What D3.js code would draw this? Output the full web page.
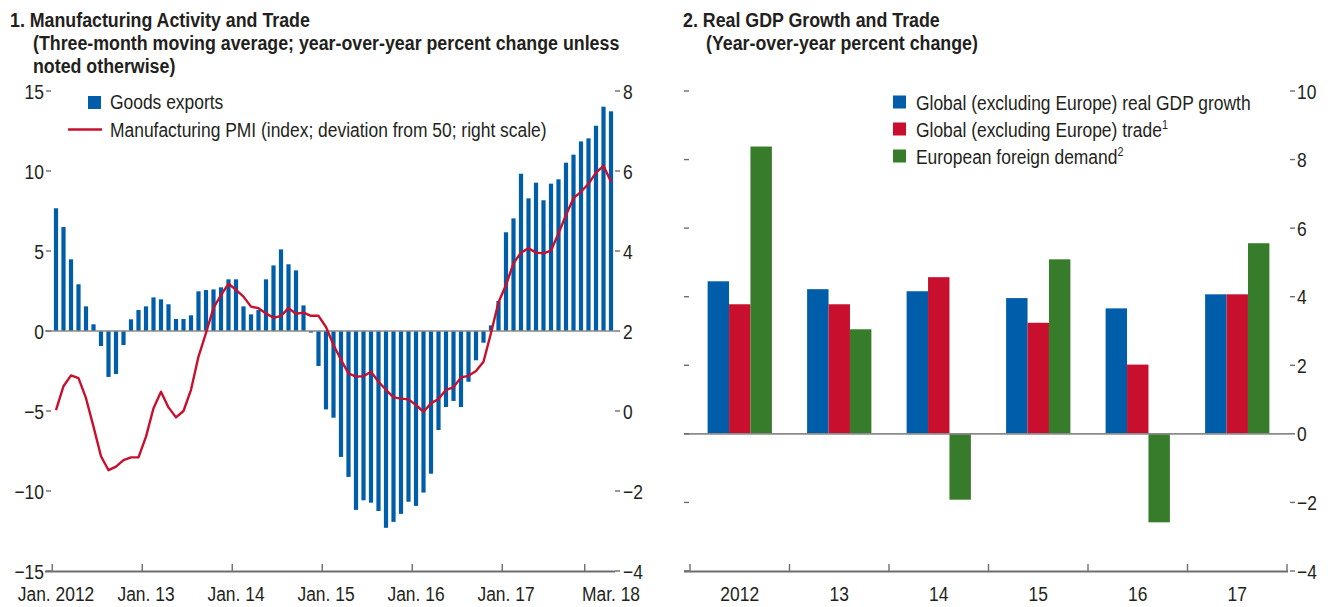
<!DOCTYPE html>
<html><head><meta charset="utf-8">
<script src="https://cdn.jsdelivr.net/npm/d3@7"></script>
<style>
body{margin:0;background:#fff;}
svg text{font-family:"Liberation Sans",Arial,Helvetica,sans-serif;fill:#231f20;}
</style></head><body>
<svg id="c" width="1331" height="607"></svg>
<script>
// ---------- Panel 1 data ----------
const years = [2012,2013,2014,2015,2016,2017,2018];
const months = [];
for (const y of years) for (let m=0;m<12;m++){ if (y===2018 && m>2) break; months.push(y+"-"+String(m+1).padStart(2,"0")); }
const goodsExports = [
 7.67,6.5,4.48,2.92,1.54,0.42,-0.94,-2.87,-2.69,-0.88,0.73,1.31,
 1.54,2.1,1.98,1.67,0.75,0.75,0.98,2.48,2.56,2.6,2.73,3.23,
 3.23,1.54,1.04,1.31,3.23,4.1,5.1,4.17,3.79,1.6,-0.1,-2.19,
 -4.9,-5.42,-7.87,-9.12,-11.18,-10.58,-10.73,-11.25,-12.3,-11.93,-11.43,-10.67,
 -10.93,-10.1,-8.92,-6.19,-4.75,-4.37,-4.75,-3.17,-1.83,-0.73,0.35,1.88,
 6.17,7.04,9.83,8.29,9.27,8.17,9.21,9.48,10.52,11.02,11.85,12.04,
 12.83,14.02,13.73
];
const pmi = [
 0.02,0.62,0.89,0.82,0.32,-0.39,-1.13,-1.48,-1.39,-1.23,-1.16,-1.16,
 -0.64,0.07,0.48,0.09,-0.16,0.0,0.53,1.36,1.95,2.58,2.9,3.18,
 3.03,2.86,2.61,2.57,2.44,2.33,2.38,2.57,2.43,2.46,2.38,2.38,
 2.1,1.65,1.28,0.94,0.86,0.87,0.98,0.73,0.53,0.34,0.31,0.29,
 0.15,-0.02,0.19,0.3,0.53,0.59,0.84,0.88,1.0,1.23,1.95,2.72,
 3.15,3.69,3.96,4.07,3.96,3.94,4.01,4.44,4.9,5.32,5.48,5.68,
 5.96,6.13,5.73
];
const leftTicks1 = [15,10,5,0,-5,-10,-15];
const rightTicks1 = [8,6,4,2,0,-2,-4];
const xTickMonths1 = ["2012-01","2013-01","2014-01","2015-01","2016-01","2017-01","2017-12"];
const xLabels1 = [["2012-01","Jan. 2012"],["2013-01","Jan. 13"],["2014-01","Jan. 14"],["2015-01","Jan. 15"],["2016-01","Jan. 16"],["2017-01","Jan. 17"],["2018-03","Mar. 18"]];

// ---------- Panel 2 data ----------
const gdpYears = ["2012","13","14","15","16","17"];
const seriesNames = ["Global (excluding Europe) real GDP growth","Global (excluding Europe) trade","European foreign demand"];
const seriesSup = ["","1","2"];
const gdpGrowth = [4.45,4.22,4.16,3.96,3.66,4.07];
const globalTrade = [3.78,3.78,4.57,3.24,2.02,4.07];
const foreignDemand = [8.38,3.05,-1.92,5.09,-2.58,5.56];
const ticks2 = [10,8,6,4,2,0,-2,-4];

const BLUE="#005DAA", RED="#C8102E", GREEN="#367C2B", AX="#6d6e71", ZERO="#8a8a8a";
const FS=21, SX=0.83, TFS=20, TSX=0.89;
const fmt = v => (v<0 ? "\u2212"+Math.abs(v) : String(v));

const svg = d3.select("#c");

function txt(g, x, y, s, o={}) {
  return g.append("text")
    .attr("transform", `translate(${x},${y}) scale(${o.bold?TSX:SX},1)`)
    .attr("font-size", o.bold?TFS:FS)
    .attr("text-anchor", o.anchor||"start")
    .attr("font-weight", o.bold?"bold":"normal")
    .text(s);
}

// ================= PANEL 1 =================
const g1 = svg.append("g");
const x1 = d3.scaleBand().domain(months).range([52.25, 614.75]).paddingInner(0.44).paddingOuter(0.22);
const xb1 = d3.scaleBand().domain(months).range([52.25, 614.75]);
const yL = d3.scaleLinear().domain([-15,15]).range([571,91]);
const yR = d3.scaleLinear().domain([-4,8]).range([571,91]);

txt(g1,10,26.5,"1. Manufacturing Activity and Trade",{bold:true});
txt(g1,33,50,"(Three-month moving average; year-over-year percent change unless",{bold:true});
txt(g1,33,72.5,"noted otherwise)",{bold:true});

g1.selectAll("rect.b").data(months).enter().append("rect")
  .attr("x", d=>x1(d)).attr("width", x1.bandwidth())
  .attr("y", (d,i)=>yL(Math.max(0,goodsExports[i])))
  .attr("height",(d,i)=>Math.abs(yL(goodsExports[i])-yL(0)))
  .attr("fill",BLUE);

g1.append("line").attr("x1",45).attr("x2",615).attr("y1",yL(0)).attr("y2",yL(0)).attr("stroke",ZERO).attr("stroke-width",1.6);

const line1 = d3.line().x((d,i)=>xb1(months[i])+xb1.bandwidth()/2).y(d=>yR(d));
g1.append("path").datum(pmi).attr("d",line1).attr("fill","none").attr("stroke",RED).attr("stroke-width",2.4).attr("stroke-linejoin","round");

g1.append("line").attr("x1",45).attr("x2",615).attr("y1",571.5).attr("y2",571.5).attr("stroke",AX).attr("stroke-width",2);
g1.selectAll("line.xt").data(xTickMonths1).enter().append("line")
  .attr("x1",d=>xb1(d)).attr("x2",d=>xb1(d)).attr("y1",564).attr("y2",571).attr("stroke",AX).attr("stroke-width",1.4);
xLabels1.forEach(d=>txt(g1, xb1(d[0])+xb1.bandwidth()/2, 601, d[1], {anchor:"middle"}));

g1.selectAll("line.lt").data(leftTicks1).enter().append("line")
  .attr("x1",46).attr("x2",51).attr("y1",d=>yL(d)).attr("y2",d=>yL(d)).attr("stroke",AX).attr("stroke-width",1.4);
leftTicks1.forEach(d=>txt(g1,44,yL(d)+7.5,fmt(d),{anchor:"end"}));
g1.selectAll("line.rt").data(rightTicks1).enter().append("line")
  .attr("x1",615).attr("x2",620).attr("y1",d=>yR(d)).attr("y2",d=>yR(d)).attr("stroke",AX).attr("stroke-width",1.4);
rightTicks1.forEach(d=>txt(g1,623,yR(d)+7.5,fmt(d)));

g1.append("rect").attr("x",88).attr("y",96).attr("width",13).attr("height",13).attr("fill",BLUE);
txt(g1,110,109,"Goods exports");
g1.append("line").attr("x1",68).attr("x2",102).attr("y1",129.5).attr("y2",129.5).attr("stroke",RED).attr("stroke-width",2.4);
txt(g1,110,136.5,"Manufacturing PMI (index; deviation from 50; right scale)");

// ================= PANEL 2 =================
const g2 = svg.append("g");
const x2 = d3.scaleBand().domain(gdpYears).range([690,1287]);
const bw2 = x2.bandwidth();
const xs2 = d3.scaleBand().domain([0,1,2]).range([bw2*0.177, bw2*0.823]);
const y2 = d3.scaleLinear().domain([-4,10]).range([571,91]);
const seriesVals = [gdpGrowth, globalTrade, foreignDemand];
const seriesCol = [BLUE, RED, GREEN];

txt(g2,683,26.5,"2. Real GDP Growth and Trade",{bold:true});
txt(g2,706,50,"(Year-over-year percent change)",{bold:true});

const flat = [];
gdpYears.forEach((yr,i)=>seriesVals.forEach((s,k)=>flat.push({yr,k,v:s[i]})));
g2.selectAll("rect.g").data(flat).enter().append("rect")
  .attr("x",d=>x2(d.yr)+xs2(d.k)).attr("width",xs2.bandwidth())
  .attr("y",d=>y2(Math.max(0,d.v))).attr("height",d=>Math.abs(y2(d.v)-y2(0)))
  .attr("fill",d=>seriesCol[d.k]);

g2.append("line").attr("x1",684).attr("x2",1290).attr("y1",y2(0)).attr("y2",y2(0)).attr("stroke",ZERO).attr("stroke-width",1.6);
g2.append("line").attr("x1",684).attr("x2",1288).attr("y1",571.5).attr("y2",571.5).attr("stroke",AX).attr("stroke-width",2);
const edges2 = gdpYears.map(d=>x2(d)).concat([x2.range()[1]]);
g2.selectAll("line.xt").data(edges2).enter().append("line")
  .attr("x1",d=>d).attr("x2",d=>d).attr("y1",564).attr("y2",571).attr("stroke",AX).attr("stroke-width",1.4);
gdpYears.forEach(d=>txt(g2, x2(d)+bw2/2, 601, d, {anchor:"middle"}));

g2.selectAll("line.lt").data(ticks2).enter().append("line")
  .attr("x1",684).attr("x2",689).attr("y1",d=>y2(d)).attr("y2",d=>y2(d)).attr("stroke",AX).attr("stroke-width",1.4);
g2.selectAll("line.rt").data(ticks2).enter().append("line")
  .attr("x1",1290).attr("x2",1295).attr("y1",d=>y2(d)).attr("y2",d=>y2(d)).attr("stroke",AX).attr("stroke-width",1.4);
ticks2.forEach(d=>txt(g2,1297,y2(d)+7.5,fmt(d)));

seriesNames.forEach((n,k)=>{
  const cy = 102 + k*27;
  g2.append("rect").attr("x",893).attr("y",cy-6.5).attr("width",13).attr("height",13).attr("fill",seriesCol[k]);
  const t = txt(g2,916,cy+7.5,n);
  if (seriesSup[k]) t.append("tspan").attr("dy",-8).attr("font-size",13).text(seriesSup[k]);
});
</script></body></html>
